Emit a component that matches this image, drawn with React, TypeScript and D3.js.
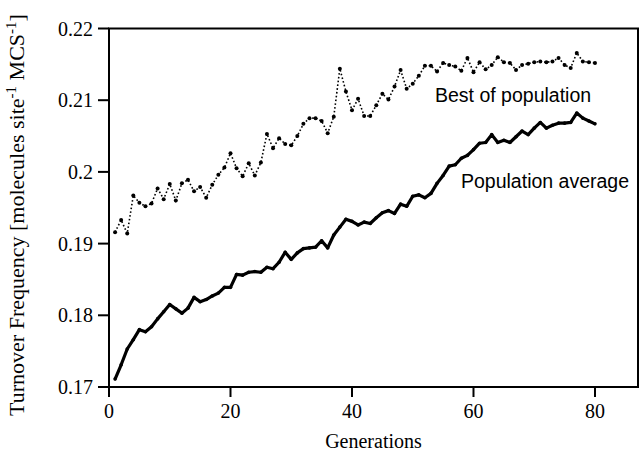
import React from "react";
import * as d3 from "d3";

const generations: number[] = Array.from({ length: 80 }, (_, i) => i + 1);

const bestOfPopulation: number[] = [
  0.1916, 0.1933, 0.1914, 0.1967, 0.1957, 0.1952, 0.1956, 0.1977, 0.1962, 0.1983,
  0.1960, 0.1984, 0.1989, 0.1973, 0.1979, 0.1964, 0.1982, 0.1996, 0.2006, 0.2026,
  0.2005, 0.1994, 0.2012, 0.1995, 0.2013, 0.2053, 0.2033, 0.2047, 0.2039, 0.2037,
  0.2050, 0.2067, 0.2075, 0.2075, 0.2071, 0.2054, 0.2077, 0.2144, 0.2112, 0.2086,
  0.2102, 0.2078, 0.2078, 0.2093, 0.2109, 0.2101, 0.2119, 0.2142, 0.2116, 0.2123,
  0.2134, 0.2148, 0.2148, 0.2140, 0.2152, 0.2149, 0.2147, 0.2141, 0.2159, 0.2139,
  0.2153, 0.2143, 0.2149, 0.2160, 0.2153, 0.2152, 0.2142, 0.2149, 0.2151, 0.2153,
  0.2154, 0.2153, 0.2154, 0.2159, 0.2149, 0.2145, 0.2166, 0.2154, 0.2153, 0.2152,
];

const populationAverage: number[] = [
  0.1711, 0.1731, 0.1753, 0.1766, 0.1780, 0.1777, 0.1784, 0.1795, 0.1805, 0.1815,
  0.1809, 0.1803, 0.1810, 0.1825, 0.1819, 0.1822, 0.1827, 0.1831, 0.1839, 0.1839,
  0.1857, 0.1856, 0.1860, 0.1861, 0.1860, 0.1867, 0.1865, 0.1874, 0.1888, 0.1878,
  0.1887, 0.1893, 0.1894, 0.1895, 0.1904, 0.1894, 0.1912, 0.1923, 0.1934, 0.1931,
  0.1926, 0.1930, 0.1928, 0.1936, 0.1943, 0.1946, 0.1942, 0.1955, 0.1952, 0.1966,
  0.1968, 0.1964, 0.1970, 0.1984, 0.1995, 0.2008, 0.2010, 0.2019, 0.2023, 0.2031,
  0.2040, 0.2041, 0.2052, 0.2041, 0.2044, 0.2041, 0.2049, 0.2057, 0.2052, 0.2061,
  0.2069, 0.2061, 0.2065, 0.2068, 0.2068, 0.2069, 0.2082, 0.2075, 0.2071, 0.2067,
];

const xTicks: number[] = [0, 20, 40, 60, 80];
const yTicks: number[] = [0.17, 0.18, 0.19, 0.2, 0.21, 0.22];
const yTickLabels: string[] = ["0.17", "0.18", "0.19", "0.2", "0.21", "0.22"];

const W = 641;
const H = 452;
const left = 109;
const right = 638;
const top = 28.5;
const bottom = 387;

export default function App() {
  const x = d3.scaleLinear().domain([0, 87.08]).range([left, right]);
  const y = d3.scaleLinear().domain([0.17, 0.22]).range([bottom, top]);

  const line = d3
    .line<number>()
    .x((_, i) => x(generations[i]))
    .y((d) => y(d));

  const serif = "'Liberation Serif', 'Times New Roman', serif";
  const sans = "'Liberation Sans', Arial, sans-serif";

  return (
    <svg
      width={W}
      height={H}
      style={{ position: "absolute", left: 0, top: 0, background: "#fff" }}
    >
      <rect x={0} y={0} width={W} height={H} fill="#fff" />
      <rect
        x={left}
        y={top}
        width={right - left}
        height={bottom - top}
        fill="none"
        stroke="#000"
        strokeWidth={2}
      />
      {yTicks.map((t, i) => (
        <g key={"yt" + i}>
          <line x1={left - 11} x2={left} y1={y(t)} y2={y(t)} stroke="#000" strokeWidth={2} />
          <text
            x={left - 16}
            y={y(t)}
            dy="0.35em"
            textAnchor="end"
            fontFamily={serif}
            fontSize={20}
            fill="#000"
          >
            {yTickLabels[i]}
          </text>
        </g>
      ))}
      {xTicks.map((t, i) => (
        <g key={"xt" + i}>
          <line x1={x(t)} x2={x(t)} y1={bottom} y2={bottom + 10} stroke="#000" strokeWidth={2} />
          <text
            x={x(t)}
            y={418}
            textAnchor="middle"
            fontFamily={serif}
            fontSize={20}
            fill="#000"
          >
            {t}
          </text>
        </g>
      ))}
      <text
        x={(left + right) / 2}
        y={448}
        textAnchor="middle"
        fontFamily={serif}
        fontSize={20}
        fill="#000"
      >
        Generations
      </text>
      <text
        transform={`translate(24, 215) rotate(-90)`}
        textAnchor="middle"
        fontFamily={serif}
        fontSize={22}
        fill="#000"
      >
        Turnover Frequency [molecules site
        <tspan dy={-8} fontSize={15}>-1</tspan>
        <tspan dy={8}> MCS</tspan>
        <tspan dy={-8} fontSize={15}>-1</tspan>
        <tspan dy={8}>]</tspan>
      </text>

      <path
        d={line(bestOfPopulation) || ""}
        fill="none"
        stroke="#000"
        strokeWidth={1.6}
        strokeDasharray="1.6 2.2"
      />
      {bestOfPopulation.map((v, i) => (
        <circle key={"b" + i} cx={x(generations[i])} cy={y(v)} r={2} fill="#000" />
      ))}

      <path
        d={line(populationAverage) || ""}
        fill="none"
        stroke="#000"
        strokeWidth={3.2}
        strokeLinejoin="round"
      />
      {populationAverage.map((v, i) => (
        <circle key={"a" + i} cx={x(generations[i])} cy={y(v)} r={1.8} fill="#000" />
      ))}

      <text x={435} y={102} fontFamily={sans} fontSize={19.5} fill="#000">
        Best of population
      </text>
      <text x={461} y={188} fontFamily={sans} fontSize={19.5} fill="#000">
        Population average
      </text>
    </svg>
  );
}
